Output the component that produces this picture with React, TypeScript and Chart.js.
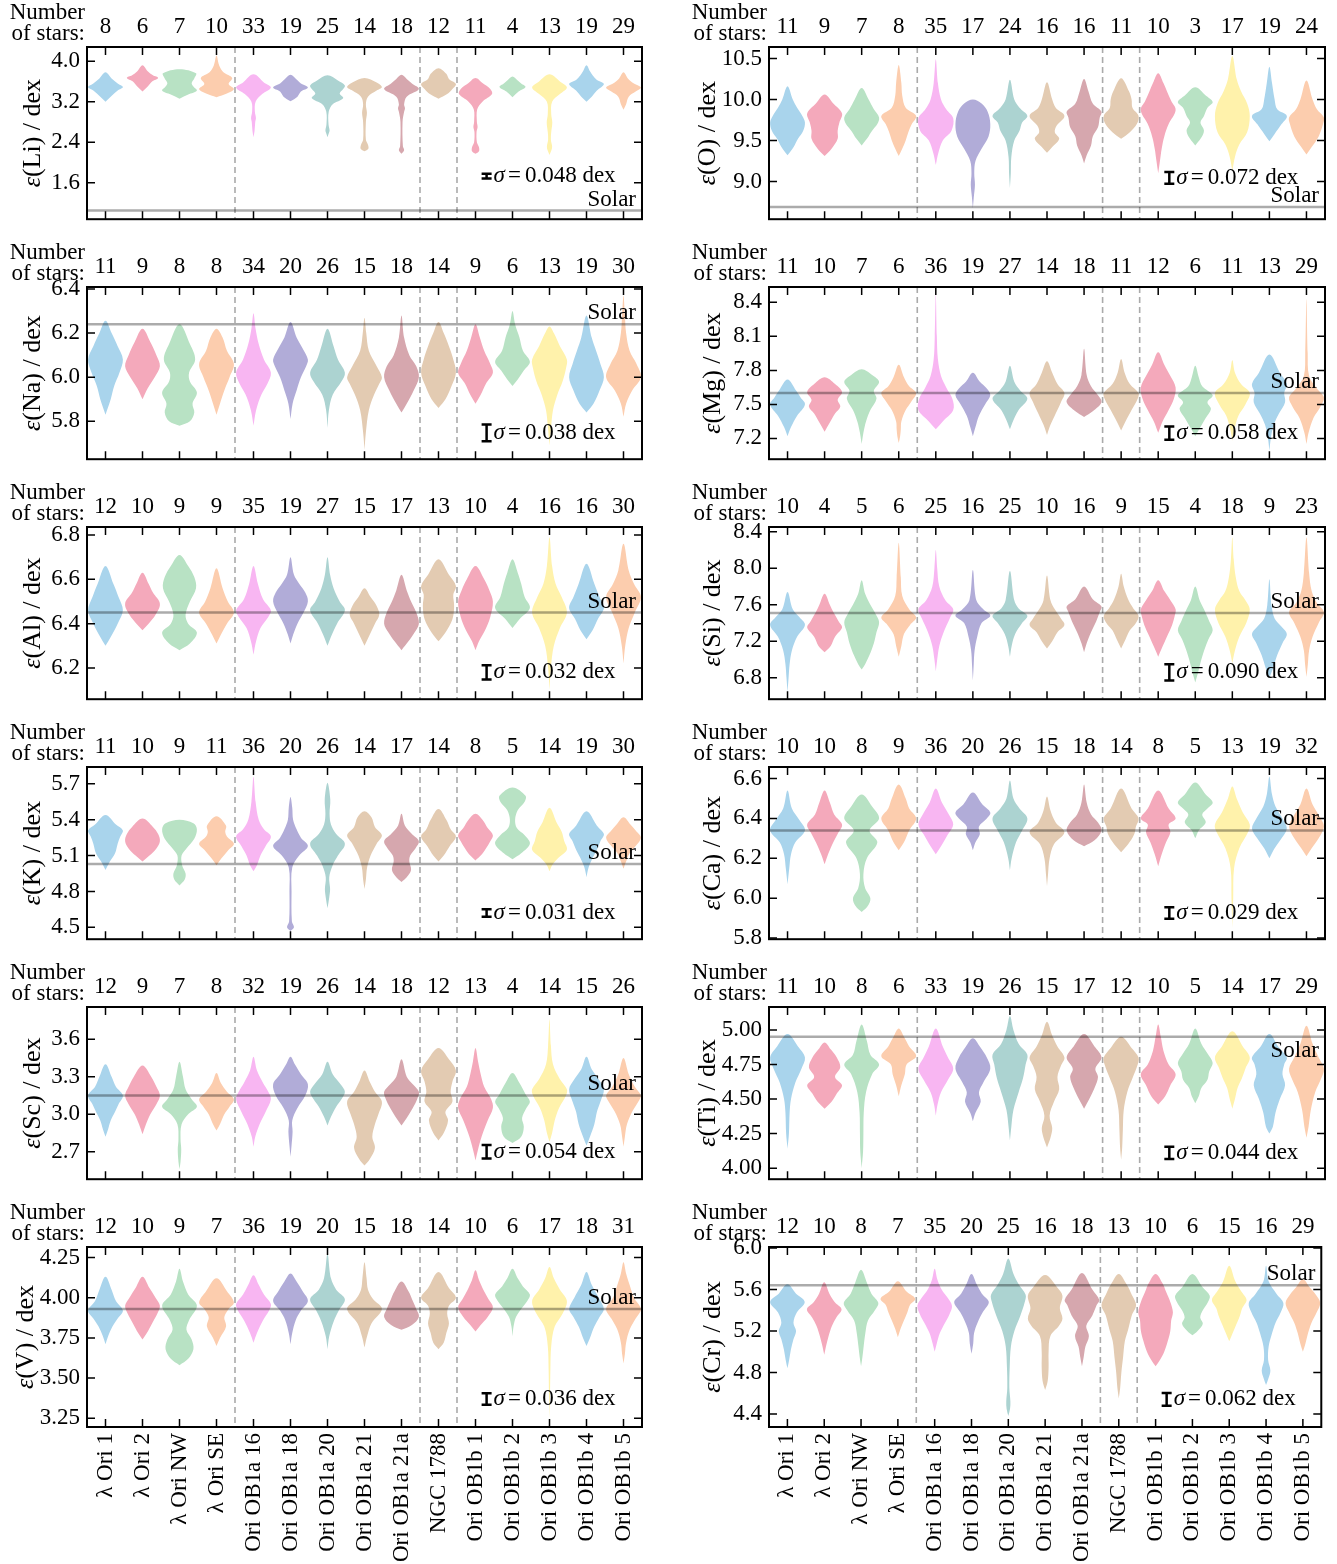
import React, { useEffect, useRef } from 'react';
import { Chart, registerables } from 'chart.js';

Chart.register(...registerables);

// ---------- categories / styling ----------
const GROUPS = ['λ Ori 1', 'λ Ori 2', 'λ Ori NW', 'λ Ori SE', 'Ori OB1a 16', 'Ori OB1a 18', 'Ori OB1a 20', 'Ori OB1a 21', 'Ori OB1a 21a', 'NGC 1788', 'Ori OB1b 1', 'Ori OB1b 2', 'Ori OB1b 3', 'Ori OB1b 4', 'Ori OB1b 5'];
const COLORS = ['#a9d4ec', '#f4a9bb', '#b8e2c4', '#fccdae', '#f8b6f2', '#b1acd8', '#acd3d1', '#e3cbb2', '#d6a7ae', '#e3cbb2', '#f4a9bb', '#b8e2c4', '#fff2ab', '#a9d4ec', '#fccdae'];
const DIVIDERS = [3.5, 8.5, 9.5];

const ELEMENTS = ['Li', 'O', 'Na', 'Mg', 'Al', 'Si', 'K', 'Ca', 'Sc', 'Ti', 'V', 'Cr'];
const SOLAR = [1.05, 8.69, 6.24, 7.60, 6.45, 7.51, 5.03, 6.34, 3.15, 4.95, 3.93, 5.64];
const SOLAR_LABEL_BELOW = [false, false, false, false, false, false, false, false, false, true, false, false];
const SIGMA = [0.048, 0.072, 0.038, 0.058, 0.032, 0.090, 0.031, 0.029, 0.054, 0.044, 0.036, 0.062];
const SIGMA_TEXT = ['0.048', '0.072', '0.038', '0.058', '0.032', '0.090', '0.031', '0.029', '0.054', '0.044', '0.036', '0.062'];
const SIGMA_Y = [1.73, 9.044, 5.747, 7.247, 6.18, 6.86, 4.62, 5.925, 2.70, 4.11, 3.37, 4.54];
const SIGMA_X = 10.3;
const Y_MIN = [0.88, 8.54, 5.628, 7.017, 6.059, 6.566, 4.401, 5.794, 2.48, 3.92, 3.196, 4.274];
const Y_MAX = [4.28, 10.64, 6.409, 8.535, 6.836, 8.452, 5.841, 6.658, 3.858, 5.166, 4.315, 6.01];
const Y_TICKS = [
  [1.6, 2.4, 3.2, 4.0],
  [9.0, 9.5, 10.0, 10.5],
  [5.8, 6.0, 6.2, 6.4],
  [7.2, 7.5, 7.8, 8.1, 8.4],
  [6.2, 6.4, 6.6, 6.8],
  [6.8, 7.2, 7.6, 8.0, 8.4],
  [4.5, 4.8, 5.1, 5.4, 5.7],
  [5.8, 6.0, 6.2, 6.4, 6.6],
  [2.7, 3.0, 3.3, 3.6],
  [4.0, 4.25, 4.5, 4.75, 5.0],
  [3.25, 3.5, 3.75, 4.0, 4.25],
  [4.4, 4.8, 5.2, 5.6, 6.0],
];
const TICK_DECIMALS = [1, 1, 1, 1, 1, 1, 1, 1, 1, 2, 2, 1];

// ---------- number of stars ----------
const LI_COUNTS = [8, 6, 7, 10, 33, 19, 25, 14, 18, 12, 11, 4, 13, 19, 29];
const O_COUNTS = [11, 9, 7, 8, 35, 17, 24, 16, 16, 11, 10, 3, 17, 19, 24];
const NA_COUNTS = [11, 9, 8, 8, 34, 20, 26, 15, 18, 14, 9, 6, 13, 19, 30];
const MG_COUNTS = [11, 10, 7, 6, 36, 19, 27, 14, 18, 11, 12, 6, 11, 13, 29];
const AL_COUNTS = [12, 10, 9, 9, 35, 19, 27, 15, 17, 13, 10, 4, 16, 16, 30];
const SI_COUNTS = [10, 4, 5, 6, 25, 16, 25, 10, 16, 9, 15, 4, 18, 9, 23];
const K_COUNTS = [11, 10, 9, 11, 36, 20, 26, 14, 17, 14, 8, 5, 14, 19, 30];
const CA_COUNTS = [10, 10, 8, 9, 36, 20, 26, 15, 18, 14, 8, 5, 13, 19, 32];
const SC_COUNTS = [12, 9, 7, 8, 32, 19, 26, 14, 18, 12, 13, 4, 14, 15, 26];
const TI_COUNTS = [11, 10, 8, 6, 33, 19, 26, 15, 17, 12, 10, 5, 14, 17, 29];
const V_COUNTS = [12, 10, 9, 7, 36, 19, 20, 15, 18, 14, 10, 6, 17, 18, 31];
const CR_COUNTS = [12, 10, 8, 7, 35, 20, 25, 16, 18, 13, 10, 6, 15, 16, 29];

// ---------- violin profiles: [abundance, relative half-width] ----------
const LI_VIOLINS = [
  [[3.20, 0], [3.30, 0.3], [3.42, 0.7], [3.49, 1], [3.56, 0.7], [3.66, 0.35], [3.78, 0]],
  [[3.40, 0], [3.50, 0.3], [3.60, 0.55], [3.67, 0.9], [3.72, 0.6], [3.80, 0.3], [3.92, 0]],
  [[3.26, 0], [3.34, 0.5], [3.42, 1], [3.50, 0.8], [3.57, 0.7], [3.66, 0.85], [3.76, 0.95], [3.84, 0]],
  [[3.29, 0], [3.36, 0.6], [3.45, 1], [3.55, 0.7], [3.67, 0.9], [3.78, 0.4], [3.92, 0.15], [4.11, 0]],
  [[2.50, 0], [2.62, 0.06], [2.80, 0.1], [2.88, 0.14], [3.00, 0.08], [3.20, 0.12], [3.35, 0.5], [3.48, 1], [3.58, 0.6], [3.74, 0]],
  [[3.21, 0], [3.30, 0.4], [3.40, 0.6], [3.48, 1], [3.56, 0.6], [3.64, 0.35], [3.73, 0]],
  [[2.50, 0], [2.58, 0.08], [2.63, 0.12], [2.75, 0.06], [3.00, 0.07], [3.15, 0.3], [3.27, 0.9], [3.36, 0.7], [3.45, 0.9], [3.52, 1], [3.62, 0.6], [3.72, 0]],
  [[2.22, 0], [2.27, 0.22], [2.35, 0.2], [2.45, 0.08], [2.80, 0.08], [2.98, 0.14], [3.15, 0.08], [3.30, 0.2], [3.42, 0.7], [3.49, 1], [3.58, 0.7], [3.67, 0]],
  [[2.17, 0], [2.24, 0.15], [2.32, 0.08], [2.80, 0.06], [3.00, 0.15], [3.07, 0.2], [3.15, 0.15], [3.30, 0.3], [3.45, 1], [3.56, 0.6], [3.65, 0.3], [3.73, 0]],
  [[3.26, 0], [3.35, 0.5], [3.45, 0.8], [3.55, 1], [3.65, 0.6], [3.75, 0.45], [3.86, 0]],
  [[2.17, 0], [2.22, 0.2], [2.30, 0.2], [2.40, 0.08], [2.60, 0.06], [2.70, 0.12], [2.80, 0.08], [3.05, 0.1], [3.20, 0.4], [3.35, 0.95], [3.45, 0.85], [3.57, 0.4], [3.67, 0]],
  [[3.29, 0], [3.40, 0.35], [3.49, 0.75], [3.56, 0.5], [3.62, 0.3], [3.70, 0]],
  [[2.15, 0], [2.25, 0.12], [2.32, 0.15], [2.45, 0.08], [2.60, 0.1], [2.79, 0.16], [2.95, 0.1], [3.20, 0.15], [3.35, 0.6], [3.48, 1], [3.60, 0.6], [3.74, 0]],
  [[3.20, 0], [3.30, 0.3], [3.42, 0.6], [3.55, 1], [3.63, 0.6], [3.72, 0.35], [3.80, 0.2], [3.92, 0]],
  [[3.04, 0], [3.15, 0.15], [3.30, 0.3], [3.40, 0.7], [3.48, 1], [3.56, 0.6], [3.66, 0.25], [3.78, 0]],
];
const O_VIOLINS = [
  [[9.32, 0], [9.42, 0.35], [9.52, 0.6], [9.62, 0.9], [9.72, 1], [9.80, 0.85], [9.90, 0.55], [10.0, 0.3], [10.16, 0]],
  [[9.31, 0], [9.40, 0.4], [9.52, 0.75], [9.62, 0.75], [9.72, 0.85], [9.83, 1], [9.95, 0.5], [10.06, 0]],
  [[9.44, 0], [9.52, 0.3], [9.62, 0.6], [9.70, 0.9], [9.78, 1], [9.88, 0.7], [10.0, 0.4], [10.14, 0]],
  [[9.31, 0], [9.40, 0.2], [9.50, 0.4], [9.60, 0.55], [9.70, 0.75], [9.80, 1], [9.90, 0.4], [10.05, 0.2], [10.2, 0.15], [10.42, 0]],
  [[9.20, 0], [9.35, 0.15], [9.50, 0.4], [9.62, 0.9], [9.77, 1], [9.88, 0.6], [10.0, 0.3], [10.2, 0.12], [10.49, 0]],
  [[8.67, 0], [8.80, 0.05], [8.96, 0.12], [9.10, 0.08], [9.25, 0.15], [9.40, 0.5], [9.55, 0.9], [9.70, 1], [9.85, 0.85], [9.95, 0.5], [10.0, 0]],
  [[8.92, 0], [9.10, 0.05], [9.30, 0.08], [9.50, 0.25], [9.62, 0.55], [9.72, 0.7], [9.80, 1], [9.90, 0.55], [10.0, 0.25], [10.24, 0]],
  [[9.35, 0], [9.42, 0.3], [9.52, 0.7], [9.60, 0.45], [9.68, 0.55], [9.80, 1], [9.90, 0.5], [10.0, 0.3], [10.21, 0]],
  [[9.22, 0], [9.32, 0.15], [9.44, 0.4], [9.55, 0.5], [9.66, 0.8], [9.78, 0.9], [9.85, 1], [9.95, 0.5], [10.1, 0.25], [10.25, 0]],
  [[9.52, 0], [9.60, 0.5], [9.70, 0.9], [9.80, 1], [9.90, 0.65], [10.0, 0.6], [10.1, 0.45], [10.26, 0]],
  [[9.10, 0], [9.25, 0.1], [9.40, 0.2], [9.55, 0.35], [9.70, 0.6], [9.87, 1], [9.98, 0.75], [10.1, 0.5], [10.2, 0.3], [10.32, 0]],
  [[9.44, 0], [9.52, 0.3], [9.62, 0.5], [9.72, 0.3], [9.80, 0.5], [9.90, 0.7], [9.97, 1], [10.05, 0.6], [10.15, 0]],
  [[9.13, 0], [9.30, 0.15], [9.45, 0.4], [9.60, 0.85], [9.80, 1], [9.95, 0.85], [10.1, 0.5], [10.25, 0.25], [10.53, 0]],
  [[9.49, 0], [9.58, 0.3], [9.70, 0.7], [9.80, 1], [9.88, 0.45], [10.0, 0.3], [10.2, 0.15], [10.40, 0]],
  [[9.33, 0], [9.42, 0.3], [9.55, 0.7], [9.70, 0.95], [9.78, 1], [9.88, 0.6], [10.0, 0.35], [10.23, 0]],
];
const NA_VIOLINS = [
  [[5.83, 0], [5.90, 0.3], [5.96, 0.5], [6.02, 0.8], [6.08, 1], [6.14, 0.7], [6.20, 0.35], [6.256, 0]],
  [[5.90, 0], [5.95, 0.3], [6.0, 0.7], [6.05, 1], [6.10, 0.8], [6.16, 0.45], [6.22, 0]],
  [[5.78, 0], [5.80, 0.6], [5.84, 0.85], [5.88, 0.75], [5.93, 1], [5.98, 0.6], [6.02, 0.55], [6.08, 0.9], [6.15, 0.6], [6.24, 0]],
  [[5.83, 0], [5.88, 0.2], [5.94, 0.45], [6.0, 0.75], [6.06, 1], [6.12, 0.6], [6.18, 0.35], [6.22, 0]],
  [[5.78, 0], [5.85, 0.15], [5.92, 0.45], [5.97, 0.8], [6.02, 1], [6.08, 0.6], [6.15, 0.3], [6.22, 0.12], [6.29, 0]],
  [[5.81, 0], [5.88, 0.12], [5.94, 0.35], [6.0, 0.6], [6.05, 0.9], [6.08, 1], [6.13, 0.7], [6.18, 0.35], [6.25, 0]],
  [[5.77, 0], [5.85, 0.08], [5.92, 0.3], [5.98, 0.8], [6.02, 1], [6.08, 0.6], [6.14, 0.35], [6.22, 0]],
  [[5.67, 0], [5.75, 0.08], [5.85, 0.25], [5.92, 0.55], [5.97, 0.85], [6.0, 1], [6.05, 0.7], [6.12, 0.25], [6.20, 0.1], [6.27, 0]],
  [[5.84, 0], [5.88, 0.3], [5.94, 0.7], [6.0, 1], [6.05, 0.85], [6.10, 0.45], [6.18, 0.15], [6.28, 0]],
  [[5.86, 0], [5.90, 0.4], [5.96, 0.75], [6.02, 1], [6.08, 0.85], [6.14, 0.6], [6.20, 0.3], [6.25, 0]],
  [[5.88, 0], [5.92, 0.3], [5.97, 0.6], [6.02, 1], [6.06, 0.85], [6.12, 0.5], [6.18, 0.25], [6.24, 0]],
  [[5.96, 0], [5.99, 0.3], [6.03, 0.65], [6.07, 1], [6.12, 0.6], [6.18, 0.4], [6.24, 0.15], [6.30, 0]],
  [[5.69, 0], [5.78, 0.1], [5.85, 0.2], [5.92, 0.45], [5.98, 0.75], [6.04, 0.95], [6.08, 1], [6.14, 0.6], [6.20, 0.25], [6.23, 0]],
  [[5.84, 0], [5.88, 0.4], [5.94, 0.75], [6.0, 1], [6.06, 0.8], [6.12, 0.55], [6.18, 0.3], [6.28, 0]],
  [[5.82, 0], [5.88, 0.15], [5.94, 0.5], [6.0, 1], [6.06, 0.75], [6.12, 0.35], [6.20, 0.15], [6.28, 0.08], [6.37, 0]],
];
const MG_VIOLINS = [
  [[7.22, 0], [7.30, 0.2], [7.40, 0.55], [7.50, 1], [7.56, 0.75], [7.62, 0.5], [7.72, 0]],
  [[7.26, 0], [7.34, 0.3], [7.42, 0.6], [7.48, 0.9], [7.54, 0.75], [7.61, 1], [7.68, 0.6], [7.74, 0]],
  [[7.15, 0], [7.25, 0.1], [7.35, 0.25], [7.45, 0.5], [7.55, 0.85], [7.62, 0.7], [7.70, 1], [7.76, 0.6], [7.81, 0]],
  [[7.16, 0], [7.22, 0.08], [7.28, 0.12], [7.35, 0.15], [7.45, 0.4], [7.52, 0.7], [7.60, 1], [7.66, 0.6], [7.74, 0.3], [7.85, 0]],
  [[7.28, 0], [7.35, 0.4], [7.45, 1], [7.55, 0.95], [7.65, 0.6], [7.75, 0.3], [7.90, 0.12], [8.10, 0.06], [8.47, 0]],
  [[7.22, 0], [7.30, 0.15], [7.40, 0.35], [7.50, 0.7], [7.58, 1], [7.64, 0.8], [7.70, 0.4], [7.78, 0]],
  [[7.28, 0], [7.36, 0.2], [7.45, 0.5], [7.55, 1], [7.62, 0.6], [7.70, 0.25], [7.84, 0]],
  [[7.23, 0], [7.32, 0.2], [7.42, 0.5], [7.52, 0.8], [7.60, 1], [7.68, 0.6], [7.78, 0.3], [7.88, 0]],
  [[7.39, 0], [7.44, 0.5], [7.52, 1], [7.58, 0.8], [7.66, 0.4], [7.76, 0.15], [7.99, 0]],
  [[7.27, 0], [7.35, 0.25], [7.45, 0.6], [7.55, 0.95], [7.60, 1], [7.68, 0.5], [7.78, 0.2], [7.90, 0]],
  [[7.25, 0], [7.35, 0.25], [7.45, 0.6], [7.55, 0.9], [7.65, 1], [7.75, 0.7], [7.85, 0.35], [7.96, 0]],
  [[7.22, 0], [7.30, 0.3], [7.38, 0.6], [7.46, 0.9], [7.52, 0.7], [7.58, 1], [7.66, 0.4], [7.74, 0.2], [7.84, 0]],
  [[7.18, 0], [7.28, 0.12], [7.40, 0.35], [7.50, 0.75], [7.60, 1], [7.68, 0.5], [7.78, 0.15], [7.89, 0]],
  [[7.09, 0], [7.20, 0.08], [7.32, 0.25], [7.42, 0.55], [7.52, 0.9], [7.60, 0.85], [7.68, 1], [7.78, 0.6], [7.94, 0]],
  [[7.15, 0], [7.25, 0.12], [7.38, 0.4], [7.48, 0.8], [7.56, 1], [7.64, 0.6], [7.75, 0.15], [7.95, 0.07], [8.43, 0]],
];
const AL_VIOLINS = [
  [[6.30, 0], [6.34, 0.3], [6.40, 0.7], [6.46, 1], [6.52, 0.75], [6.58, 0.45], [6.66, 0]],
  [[6.37, 0], [6.40, 0.35], [6.44, 0.75], [6.49, 1], [6.54, 0.6], [6.58, 0.35], [6.63, 0]],
  [[6.28, 0], [6.31, 0.6], [6.36, 1], [6.40, 0.5], [6.44, 0.35], [6.50, 0.6], [6.56, 0.95], [6.61, 0.85], [6.66, 0.5], [6.71, 0]],
  [[6.31, 0], [6.35, 0.25], [6.40, 0.6], [6.45, 1], [6.50, 0.65], [6.56, 0.35], [6.65, 0]],
  [[6.26, 0], [6.32, 0.15], [6.38, 0.4], [6.43, 0.85], [6.46, 1], [6.51, 0.55], [6.58, 0.25], [6.66, 0]],
  [[6.31, 0], [6.35, 0.15], [6.40, 0.4], [6.45, 0.75], [6.50, 1], [6.54, 0.85], [6.58, 0.5], [6.62, 0.2], [6.70, 0]],
  [[6.30, 0], [6.35, 0.25], [6.40, 0.55], [6.46, 1], [6.50, 0.7], [6.56, 0.35], [6.62, 0.15], [6.70, 0]],
  [[6.30, 0], [6.35, 0.3], [6.40, 0.6], [6.44, 0.85], [6.48, 0.7], [6.52, 0.35], [6.56, 0]],
  [[6.28, 0], [6.32, 0.4], [6.36, 0.75], [6.40, 1], [6.45, 0.85], [6.50, 0.55], [6.55, 0.3], [6.62, 0]],
  [[6.32, 0], [6.36, 0.4], [6.42, 0.8], [6.48, 0.9], [6.53, 0.85], [6.57, 1], [6.62, 0.6], [6.69, 0]],
  [[6.28, 0], [6.32, 0.2], [6.37, 0.55], [6.43, 0.85], [6.50, 1], [6.55, 0.8], [6.60, 0.5], [6.66, 0]],
  [[6.38, 0], [6.42, 0.4], [6.47, 1], [6.52, 0.7], [6.58, 0.5], [6.63, 0.3], [6.69, 0]],
  [[6.10, 0], [6.20, 0.08], [6.30, 0.25], [6.38, 0.6], [6.45, 1], [6.52, 0.7], [6.58, 0.35], [6.66, 0.15], [6.79, 0]],
  [[6.33, 0], [6.37, 0.35], [6.42, 0.65], [6.47, 1], [6.52, 0.75], [6.58, 0.45], [6.67, 0]],
  [[6.22, 0], [6.30, 0.1], [6.38, 0.3], [6.45, 0.65], [6.52, 1], [6.58, 0.6], [6.64, 0.3], [6.76, 0]],
];
const SI_VIOLINS = [
  [[6.64, 0], [6.80, 0.06], [6.95, 0.12], [7.10, 0.25], [7.25, 0.55], [7.38, 1], [7.46, 0.7], [7.55, 0.3], [7.74, 0]],
  [[7.08, 0], [7.15, 0.35], [7.25, 0.6], [7.35, 1], [7.42, 0.8], [7.52, 0.5], [7.60, 0.3], [7.72, 0]],
  [[6.89, 0], [6.95, 0.2], [7.05, 0.45], [7.18, 0.7], [7.30, 0.85], [7.41, 1], [7.50, 0.8], [7.60, 0.5], [7.72, 0.2], [7.87, 0]],
  [[7.03, 0], [7.15, 0.15], [7.28, 0.3], [7.38, 0.65], [7.46, 1], [7.55, 0.6], [7.70, 0.2], [7.90, 0.12], [8.28, 0]],
  [[6.87, 0], [7.0, 0.08], [7.15, 0.2], [7.30, 0.45], [7.45, 0.8], [7.55, 1], [7.65, 0.55], [7.80, 0.2], [8.0, 0.08], [8.2, 0]],
  [[6.77, 0], [6.95, 0.05], [7.10, 0.1], [7.25, 0.25], [7.40, 0.5], [7.48, 1], [7.55, 0.6], [7.65, 0.2], [7.98, 0]],
  [[7.03, 0], [7.15, 0.1], [7.28, 0.3], [7.40, 0.7], [7.48, 1], [7.56, 0.5], [7.65, 0.25], [7.97, 0]],
  [[7.12, 0], [7.20, 0.3], [7.30, 0.6], [7.38, 1], [7.45, 0.8], [7.55, 0.45], [7.65, 0.2], [7.92, 0]],
  [[7.08, 0], [7.18, 0.15], [7.30, 0.4], [7.42, 0.7], [7.52, 0.9], [7.58, 1], [7.66, 0.5], [7.80, 0]],
  [[7.12, 0], [7.22, 0.25], [7.32, 0.5], [7.40, 0.85], [7.48, 1], [7.56, 0.7], [7.66, 0.4], [7.80, 0.15], [7.94, 0]],
  [[7.03, 0], [7.12, 0.2], [7.25, 0.5], [7.38, 0.8], [7.48, 0.95], [7.55, 1], [7.65, 0.7], [7.75, 0.35], [7.87, 0]],
  [[6.75, 0], [6.85, 0.15], [7.0, 0.35], [7.12, 0.55], [7.22, 0.75], [7.32, 1], [7.42, 0.8], [7.55, 0.5], [7.65, 0.25], [7.80, 0]],
  [[6.96, 0], [7.10, 0.15], [7.25, 0.4], [7.40, 0.8], [7.55, 1], [7.65, 0.75], [7.75, 0.4], [7.90, 0.2], [8.10, 0.08], [8.34, 0]],
  [[6.80, 0], [6.90, 0.2], [7.05, 0.45], [7.18, 0.75], [7.28, 1], [7.36, 0.7], [7.45, 0.3], [7.60, 0.12], [7.88, 0]],
  [[6.81, 0], [6.95, 0.08], [7.10, 0.15], [7.25, 0.35], [7.40, 0.7], [7.52, 1], [7.62, 0.6], [7.75, 0.3], [7.95, 0.15], [8.34, 0]],
];
const K_VIOLINS = [
  [[4.98, 0], [5.05, 0.25], [5.12, 0.55], [5.20, 0.7], [5.26, 0.85], [5.31, 1], [5.36, 0.6], [5.44, 0]],
  [[5.05, 0], [5.10, 0.4], [5.16, 0.8], [5.22, 1], [5.28, 0.9], [5.34, 0.6], [5.41, 0]],
  [[4.85, 0], [4.90, 0.3], [4.95, 0.35], [5.02, 0.15], [5.10, 0.12], [5.16, 0.4], [5.24, 0.85], [5.32, 1], [5.37, 0.8], [5.40, 0]],
  [[5.02, 0], [5.08, 0.3], [5.15, 0.7], [5.20, 1], [5.26, 0.6], [5.30, 0.5], [5.35, 0.55], [5.43, 0]],
  [[4.97, 0], [5.02, 0.2], [5.10, 0.4], [5.18, 0.7], [5.26, 1], [5.32, 0.6], [5.40, 0.3], [5.55, 0.12], [5.76, 0]],
  [[4.47, 0], [4.50, 0.2], [4.55, 0.08], [4.80, 0.06], [5.0, 0.1], [5.10, 0.5], [5.18, 1], [5.25, 0.6], [5.32, 0.35], [5.40, 0.15], [5.50, 0.1], [5.59, 0]],
  [[4.66, 0], [4.75, 0.1], [4.82, 0.15], [4.92, 0.1], [5.02, 0.3], [5.10, 0.6], [5.20, 1], [5.28, 0.5], [5.36, 0.2], [5.45, 0.12], [5.57, 0.16], [5.71, 0]],
  [[4.82, 0], [4.90, 0.08], [5.0, 0.15], [5.10, 0.35], [5.20, 0.7], [5.27, 1], [5.34, 0.6], [5.42, 0.4], [5.47, 0]],
  [[4.88, 0], [4.92, 0.3], [4.98, 0.55], [5.05, 0.45], [5.10, 0.5], [5.16, 0.8], [5.22, 1], [5.28, 0.6], [5.35, 0.2], [5.45, 0]],
  [[5.05, 0], [5.10, 0.3], [5.18, 0.65], [5.26, 1], [5.32, 0.7], [5.40, 0.45], [5.49, 0]],
  [[5.06, 0], [5.10, 0.3], [5.16, 0.6], [5.22, 0.85], [5.27, 1], [5.33, 0.7], [5.40, 0.4], [5.45, 0]],
  [[5.07, 0], [5.12, 0.5], [5.20, 1], [5.27, 0.7], [5.33, 0.25], [5.40, 0.15], [5.48, 0.3], [5.55, 0.7], [5.60, 0.75], [5.67, 0]],
  [[4.97, 0], [5.02, 0.15], [5.08, 0.5], [5.15, 1], [5.22, 0.85], [5.30, 0.7], [5.38, 0.4], [5.50, 0]],
  [[4.92, 0], [5.0, 0.12], [5.08, 0.35], [5.15, 0.6], [5.22, 0.8], [5.28, 1], [5.35, 0.6], [5.47, 0]],
  [[4.99, 0], [5.05, 0.15], [5.12, 0.35], [5.18, 0.7], [5.25, 1], [5.31, 0.7], [5.36, 0.4], [5.42, 0]],
];
const CA_VIOLINS = [
  [[6.07, 0], [6.15, 0.1], [6.22, 0.2], [6.28, 0.45], [6.34, 1], [6.39, 0.7], [6.45, 0.25], [6.54, 0]],
  [[6.17, 0], [6.22, 0.2], [6.28, 0.5], [6.33, 0.8], [6.37, 1], [6.42, 0.55], [6.48, 0.3], [6.54, 0]],
  [[5.93, 0], [5.96, 0.35], [6.0, 0.5], [6.05, 0.2], [6.12, 0.1], [6.20, 0.3], [6.28, 0.9], [6.34, 0.45], [6.40, 1], [6.46, 0.6], [6.52, 0]],
  [[6.24, 0], [6.28, 0.3], [6.34, 0.6], [6.40, 1], [6.45, 0.6], [6.50, 0.4], [6.57, 0]],
  [[6.22, 0], [6.26, 0.3], [6.32, 0.7], [6.37, 1], [6.42, 0.75], [6.48, 0.35], [6.55, 0]],
  [[6.24, 0], [6.28, 0.15], [6.32, 0.4], [6.36, 0.35], [6.40, 0.8], [6.43, 1], [6.47, 0.55], [6.53, 0]],
  [[6.14, 0], [6.20, 0.1], [6.28, 0.35], [6.34, 0.7], [6.40, 1], [6.45, 0.55], [6.50, 0.2], [6.59, 0]],
  [[6.06, 0], [6.12, 0.06], [6.20, 0.15], [6.27, 0.4], [6.33, 1], [6.38, 0.5], [6.44, 0.2], [6.51, 0]],
  [[6.26, 0], [6.29, 0.6], [6.34, 1], [6.38, 0.8], [6.42, 0.4], [6.48, 0.15], [6.57, 0]],
  [[6.23, 0], [6.27, 0.4], [6.32, 0.75], [6.36, 0.85], [6.40, 1], [6.45, 0.6], [6.55, 0]],
  [[6.16, 0], [6.22, 0.2], [6.28, 0.45], [6.33, 0.7], [6.37, 0.6], [6.40, 1], [6.45, 0.6], [6.54, 0]],
  [[6.30, 0], [6.34, 0.2], [6.38, 0.6], [6.42, 0.4], [6.45, 0.7], [6.48, 1], [6.52, 0.6], [6.58, 0]],
  [[5.85, 0], [6.0, 0.05], [6.15, 0.1], [6.25, 0.4], [6.33, 0.9], [6.37, 1], [6.43, 0.6], [6.50, 0.25], [6.56, 0]],
  [[6.20, 0], [6.25, 0.3], [6.30, 0.7], [6.35, 1], [6.40, 0.75], [6.46, 0.35], [6.52, 0.15], [6.61, 0]],
  [[6.21, 0], [6.25, 0.3], [6.30, 0.7], [6.36, 1], [6.41, 0.75], [6.47, 0.35], [6.55, 0]],
];
const SC_VIOLINS = [
  [[2.82, 0], [2.88, 0.15], [2.95, 0.3], [3.02, 0.55], [3.08, 0.75], [3.15, 1], [3.22, 0.6], [3.30, 0.35], [3.40, 0]],
  [[2.84, 0], [2.92, 0.2], [3.0, 0.45], [3.08, 0.8], [3.15, 1], [3.22, 0.8], [3.30, 0.5], [3.39, 0]],
  [[2.56, 0], [2.62, 0.06], [2.72, 0.1], [2.80, 0.06], [2.92, 0.12], [3.0, 0.5], [3.06, 1], [3.12, 0.7], [3.20, 0.35], [3.30, 0.2], [3.42, 0]],
  [[2.87, 0], [2.92, 0.2], [3.0, 0.45], [3.06, 0.75], [3.12, 1], [3.18, 0.6], [3.25, 0.25], [3.33, 0]],
  [[2.74, 0], [2.82, 0.1], [2.92, 0.35], [3.02, 0.7], [3.12, 1], [3.18, 0.85], [3.25, 0.55], [3.35, 0.2], [3.46, 0]],
  [[2.66, 0], [2.75, 0.06], [2.86, 0.12], [2.95, 0.1], [3.05, 0.4], [3.15, 0.85], [3.24, 1], [3.32, 0.6], [3.40, 0.25], [3.46, 0]],
  [[2.91, 0], [2.98, 0.2], [3.06, 0.5], [3.12, 0.8], [3.18, 1], [3.24, 0.75], [3.32, 0.3], [3.42, 0]],
  [[2.59, 0], [2.64, 0.3], [2.73, 0.6], [2.82, 0.45], [2.92, 0.6], [3.0, 0.8], [3.10, 1], [3.18, 0.6], [3.26, 0.3], [3.35, 0]],
  [[2.91, 0], [2.97, 0.3], [3.05, 0.65], [3.12, 0.9], [3.18, 1], [3.24, 0.65], [3.30, 0.3], [3.44, 0]],
  [[2.79, 0], [2.85, 0.3], [2.95, 0.55], [3.02, 0.4], [3.10, 0.8], [3.18, 0.7], [3.26, 0.8], [3.35, 1], [3.44, 0.6], [3.53, 0]],
  [[2.63, 0], [2.72, 0.15], [2.82, 0.35], [2.95, 0.7], [3.05, 1], [3.12, 0.9], [3.22, 0.5], [3.32, 0.3], [3.42, 0.15], [3.53, 0]],
  [[2.77, 0], [2.82, 0.5], [2.90, 0.65], [2.97, 0.55], [3.05, 0.8], [3.10, 1], [3.16, 0.75], [3.25, 0.4], [3.33, 0]],
  [[2.78, 0], [2.85, 0.15], [2.95, 0.3], [3.05, 0.55], [3.15, 0.95], [3.20, 1], [3.28, 0.6], [3.40, 0.2], [3.55, 0.08], [3.76, 0]],
  [[2.75, 0], [2.82, 0.2], [2.92, 0.45], [3.02, 0.6], [3.10, 0.8], [3.20, 1], [3.28, 0.7], [3.36, 0.3], [3.46, 0]],
  [[2.74, 0], [2.82, 0.08], [2.92, 0.2], [3.02, 0.5], [3.10, 0.85], [3.15, 1], [3.22, 0.65], [3.32, 0.3], [3.45, 0]],
];
const TI_VIOLINS = [
  [[4.14, 0], [4.25, 0.08], [4.40, 0.12], [4.50, 0.2], [4.62, 0.45], [4.72, 0.8], [4.80, 1], [4.88, 0.6], [4.97, 0]],
  [[4.43, 0], [4.48, 0.4], [4.54, 0.7], [4.60, 1], [4.66, 0.6], [4.73, 0.9], [4.80, 0.7], [4.86, 0.35], [4.91, 0]],
  [[4.00, 0], [4.12, 0.08], [4.25, 0.1], [4.40, 0.12], [4.55, 0.25], [4.68, 0.6], [4.75, 1], [4.82, 0.5], [4.92, 0.3], [5.04, 0]],
  [[4.52, 0], [4.60, 0.15], [4.68, 0.35], [4.75, 0.45], [4.81, 1], [4.88, 0.6], [4.95, 0.3], [5.01, 0]],
  [[4.38, 0], [4.46, 0.1], [4.55, 0.3], [4.64, 0.7], [4.72, 1], [4.80, 0.7], [4.88, 0.4], [5.01, 0]],
  [[4.34, 0], [4.40, 0.15], [4.48, 0.45], [4.55, 0.35], [4.62, 0.6], [4.72, 1], [4.80, 0.8], [4.88, 0.4], [4.94, 0]],
  [[4.20, 0], [4.30, 0.08], [4.42, 0.2], [4.55, 0.5], [4.65, 0.75], [4.75, 0.9], [4.82, 1], [4.90, 0.5], [5.0, 0.2], [5.10, 0]],
  [[4.15, 0], [4.22, 0.2], [4.29, 0.3], [4.38, 0.15], [4.48, 0.4], [4.57, 0.7], [4.66, 0.6], [4.74, 0.8], [4.80, 1], [4.88, 0.6], [4.96, 0.3], [5.06, 0]],
  [[4.43, 0], [4.50, 0.3], [4.58, 0.6], [4.66, 0.8], [4.72, 0.65], [4.80, 1], [4.88, 0.6], [4.97, 0]],
  [[4.06, 0], [4.15, 0.06], [4.28, 0.1], [4.42, 0.15], [4.55, 0.35], [4.65, 0.65], [4.75, 0.95], [4.80, 1], [4.87, 0.6], [4.95, 0]],
  [[4.46, 0], [4.52, 0.4], [4.60, 0.7], [4.68, 1], [4.75, 0.6], [4.85, 0.3], [4.95, 0.15], [5.04, 0]],
  [[4.47, 0], [4.52, 0.2], [4.58, 0.35], [4.64, 0.7], [4.70, 0.8], [4.76, 1], [4.82, 0.75], [4.90, 0.35], [5.01, 0]],
  [[4.43, 0], [4.50, 0.15], [4.58, 0.3], [4.65, 0.55], [4.72, 0.75], [4.80, 1], [4.88, 0.6], [4.99, 0]],
  [[4.25, 0], [4.30, 0.2], [4.40, 0.35], [4.50, 0.6], [4.60, 0.9], [4.68, 0.75], [4.75, 0.85], [4.80, 1], [4.88, 0.5], [4.97, 0]],
  [[4.22, 0], [4.30, 0.12], [4.42, 0.25], [4.55, 0.5], [4.65, 0.85], [4.72, 1], [4.80, 0.7], [4.90, 0.35], [5.03, 0]],
];
const V_VIOLINS = [
  [[3.71, 0], [3.76, 0.15], [3.82, 0.4], [3.87, 0.7], [3.92, 1], [3.98, 0.6], [4.05, 0.35], [4.13, 0]],
  [[3.74, 0], [3.78, 0.25], [3.84, 0.55], [3.90, 0.85], [3.95, 1], [4.0, 0.75], [4.06, 0.4], [4.13, 0]],
  [[3.58, 0], [3.62, 0.5], [3.68, 0.8], [3.74, 0.7], [3.80, 0.4], [3.86, 0.55], [3.95, 1], [4.02, 0.5], [4.10, 0.2], [4.18, 0]],
  [[3.70, 0], [3.75, 0.2], [3.82, 0.55], [3.88, 0.45], [3.93, 0.7], [3.97, 1], [4.04, 0.6], [4.12, 0]],
  [[3.72, 0], [3.78, 0.2], [3.86, 0.55], [3.92, 0.9], [3.96, 1], [4.02, 0.6], [4.08, 0.3], [4.14, 0]],
  [[3.71, 0], [3.78, 0.1], [3.86, 0.3], [3.92, 0.6], [3.98, 1], [4.04, 0.7], [4.10, 0.35], [4.15, 0]],
  [[3.68, 0], [3.76, 0.1], [3.85, 0.35], [3.92, 0.65], [3.99, 1], [4.05, 0.5], [4.12, 0.2], [4.27, 0]],
  [[3.69, 0], [3.76, 0.15], [3.84, 0.4], [3.93, 1], [3.99, 0.5], [4.05, 0.2], [4.12, 0.12], [4.22, 0]],
  [[3.80, 0], [3.83, 0.6], [3.88, 1], [3.93, 0.85], [3.98, 0.65], [4.04, 0.4], [4.10, 0]],
  [[3.68, 0], [3.72, 0.3], [3.78, 0.45], [3.84, 0.6], [3.90, 0.5], [3.95, 0.6], [4.0, 1], [4.06, 0.6], [4.16, 0]],
  [[3.79, 0], [3.83, 0.3], [3.88, 0.7], [3.94, 1], [3.99, 0.75], [4.05, 0.45], [4.11, 0.2], [4.17, 0]],
  [[3.76, 0], [3.82, 0.06], [3.88, 0.2], [3.93, 0.5], [3.98, 0.85], [4.02, 1], [4.07, 0.6], [4.12, 0.3], [4.18, 0]],
  [[3.25, 0], [3.40, 0.03], [3.55, 0.05], [3.70, 0.1], [3.82, 0.3], [3.90, 0.75], [3.98, 1], [4.05, 0.6], [4.12, 0.25], [4.19, 0]],
  [[3.70, 0], [3.75, 0.2], [3.82, 0.45], [3.88, 0.75], [3.93, 1], [4.0, 0.7], [4.08, 0.3], [4.16, 0]],
  [[3.59, 0], [3.65, 0.08], [3.72, 0.15], [3.80, 0.35], [3.87, 0.7], [3.93, 1], [4.0, 0.6], [4.08, 0.35], [4.15, 0.15], [4.22, 0]],
];
const CR_VIOLINS = [
  [[4.84, 0], [4.92, 0.1], [5.02, 0.2], [5.12, 0.35], [5.20, 0.5], [5.28, 0.35], [5.38, 0.55], [5.48, 1], [5.56, 0.5], [5.65, 0]],
  [[4.97, 0], [5.05, 0.1], [5.15, 0.25], [5.25, 0.45], [5.33, 0.7], [5.41, 1], [5.48, 0.6], [5.56, 0.3], [5.67, 0]],
  [[4.86, 0], [4.95, 0.08], [5.05, 0.15], [5.18, 0.25], [5.30, 0.4], [5.40, 0.8], [5.47, 1], [5.56, 0.6], [5.66, 0.35], [5.79, 0]],
  [[5.14, 0], [5.22, 0.15], [5.30, 0.35], [5.38, 0.55], [5.45, 0.7], [5.51, 1], [5.58, 0.5], [5.68, 0]],
  [[5.0, 0], [5.08, 0.12], [5.18, 0.3], [5.28, 0.6], [5.36, 0.85], [5.44, 1], [5.52, 0.75], [5.60, 0.4], [5.70, 0.15], [5.80, 0]],
  [[4.98, 0], [5.08, 0.1], [5.18, 0.15], [5.28, 0.35], [5.38, 0.65], [5.48, 1], [5.56, 0.6], [5.65, 0.3], [5.75, 0]],
  [[4.38, 0], [4.45, 0.1], [4.52, 0.12], [4.65, 0.06], [4.85, 0.08], [5.05, 0.15], [5.20, 0.35], [5.35, 0.7], [5.48, 0.95], [5.55, 1], [5.65, 0.6], [5.75, 0.3], [5.90, 0]],
  [[4.63, 0], [4.72, 0.15], [4.85, 0.2], [5.0, 0.2], [5.15, 0.3], [5.25, 0.8], [5.32, 1], [5.42, 0.85], [5.54, 1], [5.62, 0.7], [5.74, 0]],
  [[4.86, 0], [4.95, 0.1], [5.05, 0.2], [5.15, 0.4], [5.25, 0.25], [5.35, 0.6], [5.45, 0.85], [5.50, 1], [5.60, 0.6], [5.76, 0]],
  [[4.55, 0], [4.65, 0.08], [4.80, 0.15], [4.95, 0.25], [5.10, 0.35], [5.22, 0.55], [5.35, 0.75], [5.45, 1], [5.55, 0.75], [5.65, 0.45], [5.75, 0]],
  [[4.86, 0], [4.92, 0.25], [5.0, 0.5], [5.10, 0.7], [5.20, 0.85], [5.30, 0.9], [5.38, 1], [5.48, 0.85], [5.58, 0.6], [5.66, 0.4], [5.75, 0]],
  [[5.16, 0], [5.20, 0.3], [5.27, 0.6], [5.33, 0.45], [5.40, 0.6], [5.48, 0.9], [5.54, 1], [5.62, 0.6], [5.75, 0]],
  [[5.10, 0], [5.18, 0.2], [5.26, 0.4], [5.34, 0.6], [5.42, 0.75], [5.50, 1], [5.58, 0.7], [5.68, 0.35], [5.83, 0]],
  [[4.68, 0], [4.75, 0.15], [4.82, 0.25], [4.92, 0.12], [5.05, 0.15], [5.18, 0.35], [5.28, 0.55], [5.38, 0.85], [5.47, 1], [5.56, 0.6], [5.68, 0.15], [5.83, 0]],
  [[5.0, 0], [5.08, 0.15], [5.18, 0.3], [5.28, 0.5], [5.38, 0.8], [5.47, 1], [5.55, 0.75], [5.62, 0.4], [5.70, 0]],
];

const PANEL_COUNTS = [LI_COUNTS, O_COUNTS, NA_COUNTS, MG_COUNTS, AL_COUNTS, SI_COUNTS, K_COUNTS, CA_COUNTS, SC_COUNTS, TI_COUNTS, V_COUNTS, CR_COUNTS];
const PANEL_VIOLINS = [LI_VIOLINS, O_VIOLINS, NA_VIOLINS, MG_VIOLINS, AL_VIOLINS, SI_VIOLINS, K_VIOLINS, CA_VIOLINS, SC_VIOLINS, TI_VIOLINS, V_VIOLINS, CR_VIOLINS];

// ---------- layout ----------
const FONT_FAMILY = "'Liberation Serif', 'DejaVu Serif', serif";
const FONT_SIZE = 23;
const TITLE_SIZE = 26;
const HALF_WIDTH = 0.47;
const PLOT_TOP = 47;
const PLOT_BOTTOM = 227;
const TICK_PAD = 7;

function violinPoints(profile: number[][], i: number) {
  const right = profile.map(([y, w]) => ({ x: i + w * HALF_WIDTH, y }));
  const left = profile.slice(0, -1).reverse().map(([y, w]) => ({ x: i - w * HALF_WIDTH, y }));
  return [...right, ...left];
}

function makeDecorPlugin(idx: number) {
  return {
    id: 'panelDecor',
    beforeDatasetsDraw(chart: any) {
      const { ctx, chartArea: a, scales } = chart;
      const xs = scales.x;
      ctx.save();
      ctx.strokeStyle = '#aaaaaa';
      ctx.lineWidth = 1.6;
      ctx.setLineDash([6, 4]);
      for (const v of DIVIDERS) {
        const x = xs.getPixelForValue(v);
        ctx.beginPath();
        ctx.moveTo(x, a.top);
        ctx.lineTo(x, a.bottom);
        ctx.stroke();
      }
      ctx.restore();
    },
    afterDatasetsDraw(chart: any) {
      const { ctx, chartArea: a, scales } = chart;
      const xs = scales.x;
      const ys = scales.y;
      ctx.save();
      // solar line
      const sy = ys.getPixelForValue(SOLAR[idx]);
      ctx.strokeStyle = 'rgba(0,0,0,0.33)';
      ctx.lineWidth = 2.5;
      ctx.beginPath();
      ctx.moveTo(a.left, sy);
      ctx.lineTo(a.right, sy);
      ctx.stroke();
      ctx.fillStyle = '#000';
      ctx.font = `${FONT_SIZE}px ${FONT_FAMILY}`;
      ctx.textAlign = 'right';
      if (SOLAR_LABEL_BELOW[idx]) {
        ctx.textBaseline = 'top';
        ctx.fillText('Solar', a.right - 6, sy + 3);
      } else {
        ctx.textBaseline = 'alphabetic';
        ctx.fillText('Solar', a.right - 6, sy - 5);
      }
      // sigma error bar
      const bx = xs.getPixelForValue(SIGMA_X);
      const by = ys.getPixelForValue(SIGMA_Y[idx]);
      const y1 = ys.getPixelForValue(SIGMA_Y[idx] - SIGMA[idx]);
      const y2 = ys.getPixelForValue(SIGMA_Y[idx] + SIGMA[idx]);
      ctx.strokeStyle = '#000';
      ctx.lineWidth = 2.5;
      ctx.beginPath();
      ctx.moveTo(bx, y1);
      ctx.lineTo(bx, y2);
      ctx.moveTo(bx - 5, y1);
      ctx.lineTo(bx + 5, y1);
      ctx.moveTo(bx - 5, y2);
      ctx.lineTo(bx + 5, y2);
      ctx.stroke();
      ctx.textAlign = 'left';
      ctx.textBaseline = 'middle';
      ctx.font = `italic ${FONT_SIZE}px ${FONT_FAMILY}`;
      let tx = bx + 7;
      ctx.fillText('σ', tx, by);
      tx += ctx.measureText('σ').width + 3;
      ctx.font = `${FONT_SIZE}px ${FONT_FAMILY}`;
      ctx.fillText('=', tx, by);
      tx += ctx.measureText('=').width + 4;
      ctx.fillText(`${SIGMA_TEXT[idx]} dex`, tx, by);
      // number of stars label
      ctx.textAlign = 'right';
      ctx.textBaseline = 'alphabetic';
      ctx.fillText('Number', a.left - 2, 19);
      ctx.fillText('of stars:', a.left - 2, 40);
      // y title with italic epsilon, placed left of the widest tick label
      let maxLabel = 0;
      for (const v of Y_TICKS[idx]) {
        maxLabel = Math.max(maxLabel, ctx.measureText(v.toFixed(TICK_DECIMALS[idx])).width);
      }
      const labelLeft = a.left - TICK_PAD - maxLabel;
      const titleX = Math.min(33, labelLeft - 14);
      const cy = (a.top + a.bottom) / 2;
      ctx.translate(titleX, cy);
      ctx.rotate(-Math.PI / 2);
      ctx.textBaseline = 'middle';
      ctx.textAlign = 'left';
      ctx.font = `italic ${TITLE_SIZE}px ${FONT_FAMILY}`;
      const w1 = ctx.measureText('ε').width;
      ctx.font = `${TITLE_SIZE}px ${FONT_FAMILY}`;
      const rest = `(${ELEMENTS[idx]}) / dex`;
      const w2 = ctx.measureText(rest).width;
      const start = -(w1 + w2) / 2;
      ctx.font = `italic ${TITLE_SIZE}px ${FONT_FAMILY}`;
      ctx.fillText('ε', start, 0);
      ctx.font = `${TITLE_SIZE}px ${FONT_FAMILY}`;
      ctx.fillText(rest, start + w1, 0);
      ctx.setTransform(1, 0, 0, 1, 0, 0);
      // inward ticks
      ctx.strokeStyle = '#000';
      ctx.lineWidth = 1.5;
      ctx.beginPath();
      for (let i = 0; i < GROUPS.length; i++) {
        const x = xs.getPixelForValue(i);
        ctx.moveTo(x, a.bottom);
        ctx.lineTo(x, a.bottom - 8);
        ctx.moveTo(x, a.top);
        ctx.lineTo(x, a.top + 8);
      }
      for (const v of Y_TICKS[idx]) {
        const y = ys.getPixelForValue(v);
        ctx.moveTo(a.left, y);
        ctx.lineTo(a.left + 8, y);
        ctx.moveTo(a.right, y);
        ctx.lineTo(a.right - 8, y);
      }
      ctx.stroke();
      // frame
      ctx.lineWidth = 2;
      ctx.strokeRect(a.left, a.top, a.right - a.left, a.bottom - a.top);
      ctx.restore();
    },
  };
}

function Panel({ idx }: { idx: number }) {
  const ref = useRef<HTMLCanvasElement | null>(null);
  const col = idx % 2;
  const row = Math.floor(idx / 2);
  const W = col === 0 ? 668 : 657;
  const H = row === 5 ? 364 : 240;
  const leftPos = col === 0 ? 0 : 680;
  const axisW = col === 0 ? 87 : 89;
  const rightPad = col === 0 ? 26 : 12;
  const isBottom = row === 5;

  useEffect(() => {
    if (!ref.current) return;
    const font = { family: FONT_FAMILY, size: FONT_SIZE };
    const datasets = PANEL_VIOLINS[idx].map((profile, i) => ({
      label: GROUPS[i],
      data: violinPoints(profile, i),
      showLine: true,
      fill: 'shape',
      backgroundColor: COLORS[i],
      borderColor: 'rgba(0,0,0,0)',
      borderWidth: 0,
      pointRadius: 0,
      tension: 0.35,
    }));
    const counts = PANEL_COUNTS[idx];
    const noGrid = { display: false, drawTicks: false, tickLength: 0 };
    const chart = new Chart(ref.current, {
      type: 'scatter',
      data: { datasets } as any,
      options: {
        animation: false,
        responsive: false,
        maintainAspectRatio: false,
        events: [],
        layout: { padding: { left: 0, right: rightPad, top: 0, bottom: 0 } },
        plugins: { legend: { display: false }, tooltip: { enabled: false } },
        scales: {
          x: {
            type: 'linear',
            position: 'bottom',
            bounds: 'data',
            min: -0.5,
            max: 14.5,
            grid: noGrid,
            border: { display: false },
            ticks: {
              display: isBottom,
              autoSkip: false,
              minRotation: 90,
              maxRotation: 90,
              padding: 6,
              color: '#000',
              font,
              callback: (_v: any, i: number) => GROUPS[i],
            },
            afterBuildTicks: (s: any) => {
              s.ticks = GROUPS.map((_, i) => ({ value: i }));
            },
            afterFit: (s: any) => {
              s.height = H - PLOT_BOTTOM;
            },
          },
          xTop: {
            type: 'linear',
            axis: 'x',
            position: 'top',
            bounds: 'data',
            min: -0.5,
            max: 14.5,
            grid: noGrid,
            border: { display: false },
            ticks: {
              autoSkip: false,
              maxRotation: 0,
              minRotation: 0,
              padding: 6,
              color: '#000',
              font,
              callback: (_v: any, i: number) => String(counts[i]),
            },
            afterBuildTicks: (s: any) => {
              s.ticks = counts.map((_, i) => ({ value: i }));
            },
            afterFit: (s: any) => {
              s.height = PLOT_TOP;
            },
          },
          y: {
            type: 'linear',
            position: 'left',
            bounds: 'data',
            min: Y_MIN[idx],
            max: Y_MAX[idx],
            grid: noGrid,
            border: { display: false },
            ticks: {
              autoSkip: false,
              padding: TICK_PAD,
              color: '#000',
              font,
              callback: (v: any) => Number(v).toFixed(TICK_DECIMALS[idx]),
            },
            afterBuildTicks: (s: any) => {
              s.ticks = Y_TICKS[idx].map((v) => ({ value: v }));
            },
            afterFit: (s: any) => {
              s.width = axisW;
            },
          },
        },
      } as any,
      plugins: [makeDecorPlugin(idx)],
    });
    return () => chart.destroy();
  }, []);

  return (
    <canvas
      ref={ref}
      width={W}
      height={H}
      style={{ position: 'absolute', left: leftPos, top: row * 240, width: W, height: H, display: 'block' }}
    />
  );
}

export default function App() {
  useEffect(() => {
    document.body.style.margin = '0';
  }, []);
  return (
    <div style={{ position: 'relative', width: 1337, height: 1564, background: '#fff', overflow: 'hidden' }}>
      {ELEMENTS.map((_, i) => (
        <Panel key={i} idx={i} />
      ))}
    </div>
  );
}
